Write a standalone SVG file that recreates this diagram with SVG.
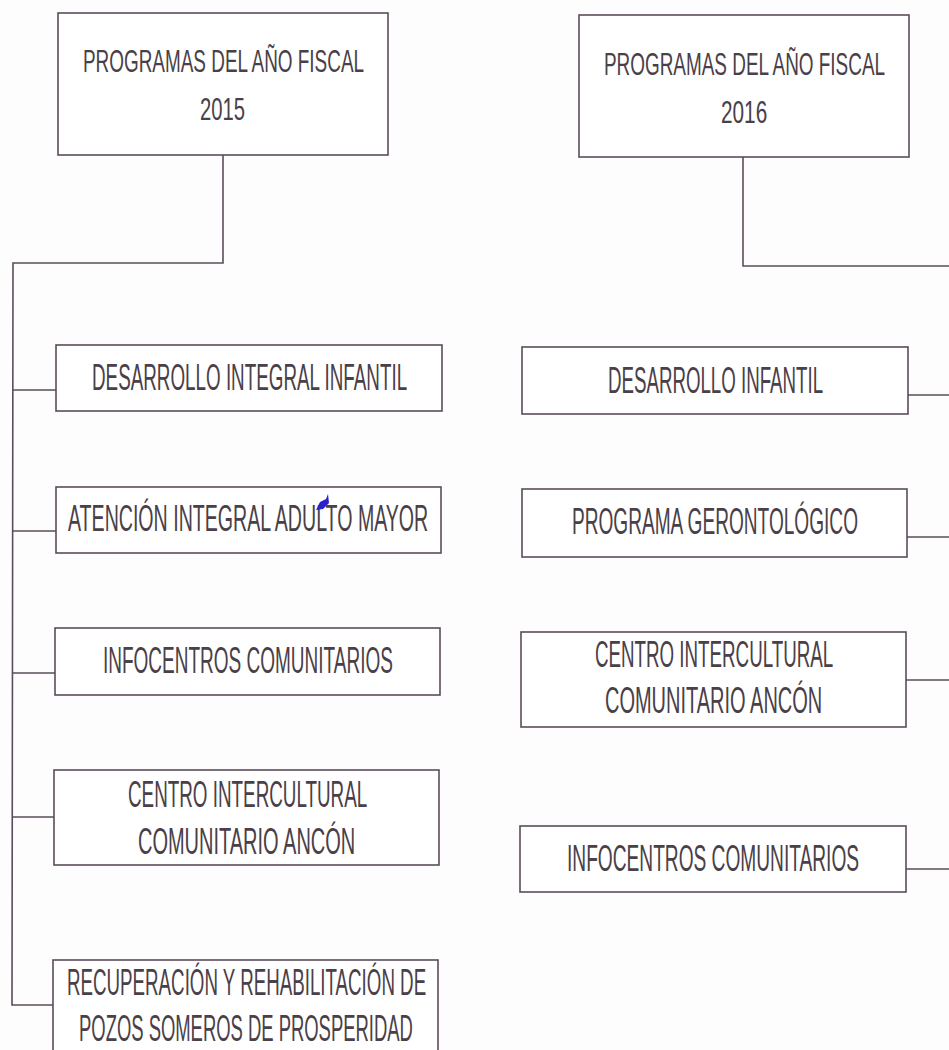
<svg xmlns="http://www.w3.org/2000/svg" width="949" height="1050" viewBox="0 0 949 1050">
<style>
.box{fill:#fff;stroke:#5a4d5a;stroke-width:1.6}
.ln{fill:none;stroke:#5a4d5a;stroke-width:1.6}
text{font-family:"Liberation Sans",Arial,sans-serif;fill:#4a4048;font-size:36px;}
.h{font-size:32px}
</style>
<rect width="949" height="1050" fill="#fdfdfd"/>
<g id="connectors">
<polyline class="ln" points="223,155 223,263 13,263 12,1005 53,1005"/>
<line class="ln" x1="13" y1="390" x2="56" y2="390"/>
<line class="ln" x1="13" y1="531" x2="56" y2="531"/>
<line class="ln" x1="12" y1="673" x2="55" y2="673"/>
<line class="ln" x1="12" y1="817" x2="54" y2="817"/>
<polyline class="ln" points="743,157 743,266 949,266"/>
<line class="ln" x1="908" y1="395" x2="949" y2="395"/>
<line class="ln" x1="907" y1="537" x2="949" y2="537"/>
<line class="ln" x1="906" y1="680" x2="949" y2="680"/>
<line class="ln" x1="906" y1="869" x2="949" y2="869"/>
</g>
<g id="head2015">
<rect class="box" x="58" y="13" width="330" height="142"/>
<text class="h" transform="translate(83,72) scale(0.55,1)" textLength="511" lengthAdjust="spacingAndGlyphs">PROGRAMAS DEL AÑO FISCAL</text>
<text class="h" transform="translate(200,120) scale(0.55,1)" textLength="82" lengthAdjust="spacingAndGlyphs">2015</text>
</g>
<g id="head2016">
<rect class="box" x="579" y="15" width="330" height="142"/>
<text class="h" transform="translate(604,75) scale(0.55,1)" textLength="511" lengthAdjust="spacingAndGlyphs">PROGRAMAS DEL AÑO FISCAL</text>
<text class="h" transform="translate(721,123) scale(0.55,1)" textLength="84" lengthAdjust="spacingAndGlyphs">2016</text>
</g>
<g id="l1">
<rect class="box" x="56" y="345" width="386" height="66"/>
<text transform="translate(92,390) scale(0.55,1)" textLength="573" lengthAdjust="spacingAndGlyphs">DESARROLLO INTEGRAL INFANTIL</text>
</g>
<g id="l2">
<rect class="box" x="56" y="487" width="385" height="66"/>
<text transform="translate(68,531) scale(0.55,1)" textLength="655" lengthAdjust="spacingAndGlyphs">ATENCIÓN INTEGRAL ADULTO MAYOR</text>
<path d="M316,510 L320,502 L326,499 L328,494 L329,503 L323,509 Z" fill="#2a22c8"/>
</g>
<g id="l3">
<rect class="box" x="55" y="628" width="385" height="67"/>
<text transform="translate(103,673) scale(0.55,1)" textLength="527" lengthAdjust="spacingAndGlyphs">INFOCENTROS COMUNITARIOS</text>
</g>
<g id="l4">
<rect class="box" x="54" y="770" width="385" height="95"/>
<text transform="translate(128,807) scale(0.55,1)" textLength="435" lengthAdjust="spacingAndGlyphs">CENTRO INTERCULTURAL</text>
<text transform="translate(138,854) scale(0.55,1)" textLength="395" lengthAdjust="spacingAndGlyphs">COMUNITARIO ANCÓN</text>
</g>
<g id="l5">
<rect class="box" x="53" y="960" width="385" height="100"/>
<text transform="translate(67,995) scale(0.55,1)" textLength="653" lengthAdjust="spacingAndGlyphs">RECUPERACIÓN Y REHABILITACIÓN DE</text>
<text transform="translate(79,1041) scale(0.55,1)" textLength="607" lengthAdjust="spacingAndGlyphs">POZOS SOMEROS DE PROSPERIDAD</text>
</g>
<g id="r1">
<rect class="box" x="522" y="347" width="386" height="67"/>
<text transform="translate(608,393) scale(0.55,1)" textLength="391" lengthAdjust="spacingAndGlyphs">DESARROLLO INFANTIL</text>
</g>
<g id="r2">
<rect class="box" x="522" y="489" width="385" height="68"/>
<text transform="translate(572,534) scale(0.55,1)" textLength="520" lengthAdjust="spacingAndGlyphs">PROGRAMA GERONTOLÓGICO</text>
</g>
<g id="r3">
<rect class="box" x="521" y="632" width="385" height="95"/>
<text transform="translate(595,667) scale(0.55,1)" textLength="433" lengthAdjust="spacingAndGlyphs">CENTRO INTERCULTURAL</text>
<text transform="translate(605,713) scale(0.55,1)" textLength="395" lengthAdjust="spacingAndGlyphs">COMUNITARIO ANCÓN</text>
</g>
<g id="r4">
<rect class="box" x="520" y="826" width="386" height="66"/>
<text transform="translate(567,871) scale(0.55,1)" textLength="531" lengthAdjust="spacingAndGlyphs">INFOCENTROS COMUNITARIOS</text>
</g>
</svg>
